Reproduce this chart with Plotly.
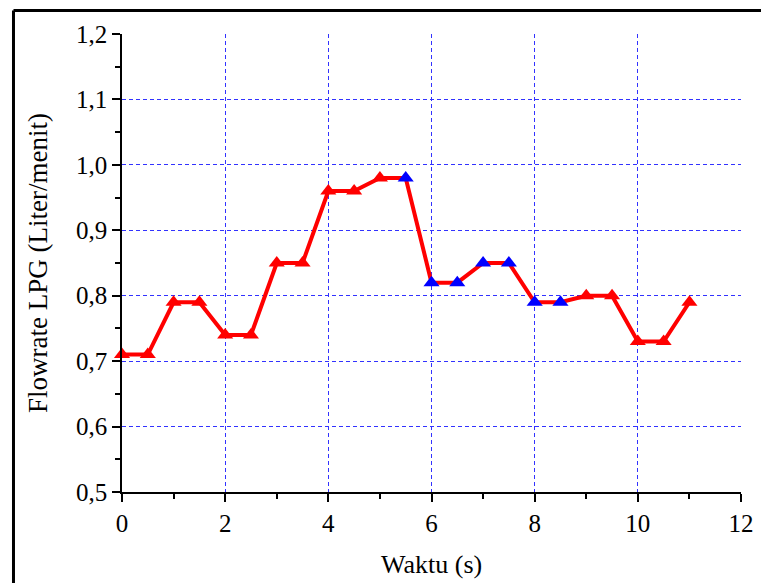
import plotly.graph_objects as go

waktu = [0, 0.5, 1, 1.5, 2, 2.5, 3, 3.5, 4, 4.5, 5, 5.5, 6, 6.5, 7, 7.5, 8, 8.5, 9, 9.5, 10, 10.5, 11]
flowrate = [0.71, 0.71, 0.79, 0.79, 0.74, 0.74, 0.85, 0.85, 0.96, 0.96, 0.98, 0.98,
            0.82, 0.82, 0.85, 0.85, 0.79, 0.79, 0.80, 0.80, 0.73, 0.73, 0.79]
blue_points = [5.5, 6, 6.5, 7, 7.5, 8, 8.5]
marker_colors = ["#0000FF" if t in blue_points else "#FF0000" for t in waktu]

x_ticks = [0, 2, 4, 6, 8, 10, 12]
y_ticks = [0.5, 0.6, 0.7, 0.8, 0.9, 1.0, 1.1, 1.2]

font_family = "Liberation Serif"
grid_color = "rgb(50,50,255)"

fig = go.Figure()
fig.add_trace(go.Scatter(
    x=waktu, y=flowrate, mode="lines+markers",
    line=dict(color="#FF0000", width=4),
    marker=dict(symbol="triangle-up", size=14, color=marker_colors, line=dict(width=0)),
    showlegend=False, cliponaxis=False,
))

fig.update_layout(
    width=761, height=575,
    margin=dict(l=114, r=28, t=26, b=91),
    paper_bgcolor="white", plot_bgcolor="white",
    separators=",.",
    font=dict(family=font_family, size=25, color="black"),
    xaxis=dict(
        range=[0, 12], tickvals=x_ticks, ticktext=[str(v) for v in x_ticks],
        showline=True, linecolor="black", linewidth=1.5,
        ticks="outside", ticklen=8, tickwidth=1.5, tickcolor="black",
        minor=dict(ticks="outside", ticklen=5, tickwidth=1.5, tickcolor="black", dtick=1, showgrid=False),
        showgrid=True, gridcolor=grid_color, gridwidth=1.3, griddash="4px,3px",
        zeroline=False, tickfont=dict(size=25, family=font_family),
    ),
    yaxis=dict(
        range=[0.5, 1.2], tickvals=y_ticks, ticktext=[f"{v:.1f}".replace(".", ",") for v in y_ticks],
        showline=True, linecolor="black", linewidth=1.5,
        ticks="outside", ticklen=8, tickwidth=1.5, tickcolor="black",
        minor=dict(ticks="outside", ticklen=5, tickwidth=1.5, tickcolor="black", dtick=0.05, tick0=0.5, showgrid=False),
        showgrid=True, gridcolor=grid_color, gridwidth=1.3, griddash="4px,3px",
        zeroline=False, tickfont=dict(size=25, family=font_family),
    ),
    annotations=[
        dict(text="Waktu (s)", xref="paper", yref="paper", x=0.5, y=-0.159,
             xanchor="center", yanchor="middle", showarrow=False,
             font=dict(size=26, family=font_family)),
        dict(text="Flowrate LPG (Liter/menit)", xref="paper", yref="paper", x=-0.1357, y=0.5,
             xanchor="center", yanchor="middle", showarrow=False, textangle=-90,
             font=dict(size=27, family=font_family)),
    ],
    shapes=[
        dict(type="line", xref="paper", yref="paper", x0=-0.1753, x1=1.2, y0=1.0513, y1=1.0513,
             line=dict(color="black", width=3)),
        dict(type="line", xref="paper", yref="paper", x0=-0.1753, x1=-0.1753, y0=1.0513, y1=-0.3,
             line=dict(color="black", width=3)),
    ],
)

fig.write_html("out.html")
